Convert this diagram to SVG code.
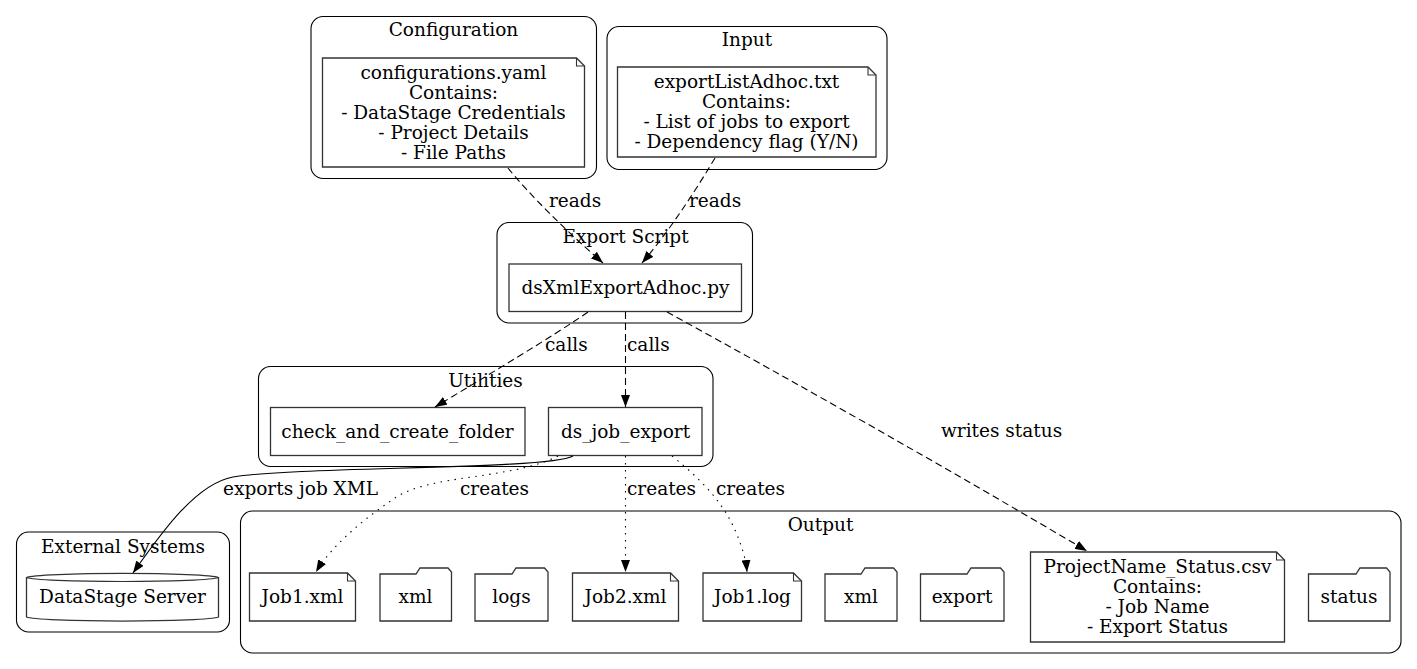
<svg xmlns="http://www.w3.org/2000/svg" width="1417" height="669" viewBox="0 0 1417 669">
<style>
  text { font-family: "DejaVu Serif", "Liberation Serif", serif; font-size: 18.5px; fill: #000; }
  .c { text-anchor: middle; }
  .cluster { fill: none; stroke: #000; stroke-width: 1.1; }
  .node { fill: #fff; stroke: #333; stroke-width: 1.3; }
  .fold { fill: none; stroke: #333; stroke-width: 1.1; }
  .edge { fill: none; stroke: #000; stroke-width: 1.1; }
  .dashed { stroke-dasharray: 7,4; }
  .dotted { stroke-dasharray: 1.5,5.5; }
</style>
<defs>
  <marker id="arr" viewBox="0 0 12 9" refX="12" refY="4.5" markerWidth="12" markerHeight="9" orient="auto" markerUnits="userSpaceOnUse">
    <path d="M0,0 L12,4.5 L0,9 Z" fill="#000"/>
  </marker>
</defs>
<rect width="1417" height="669" fill="#fff"/>

<!-- clusters -->
<g id="cluster-configuration">
  <rect class="cluster" x="311" y="16.5" width="285.5" height="162" rx="12"/>
  <text class="c" x="453.5" y="36">Configuration</text>
</g>
<g id="cluster-input">
  <rect class="cluster" x="607" y="26.5" width="280" height="143" rx="12"/>
  <text class="c" x="747" y="46">Input</text>
</g>
<g id="cluster-export-script">
  <rect class="cluster" x="497" y="222.5" width="255.5" height="100.5" rx="12"/>
  <text class="c" x="625.5" y="243">Export Script</text>
</g>
<g id="cluster-utilities">
  <rect class="cluster" x="258.5" y="366.5" width="454.5" height="100" rx="12"/>
  <text class="c" x="485.5" y="387">Utilities</text>
</g>
<g id="cluster-external">
  <rect class="cluster" x="16.5" y="532" width="213" height="100" rx="12"/>
  <text class="c" x="123" y="552.5">External Systems</text>
</g>
<g id="cluster-output">
  <rect class="cluster" x="240.5" y="511" width="1160.5" height="142" rx="12"/>
  <text class="c" x="820.5" y="531">Output</text>
</g>

<!-- nodes -->
<g id="node-config-yaml">
  <path class="node" d="M322.5,58 H576.5 L584.5,66 V167 H322.5 Z"/>
  <path class="fold" d="M576.5,58 V66 H584.5"/>
  <text class="c" x="453.5" y="79">configurations.yaml</text>
  <text class="c" x="453.5" y="99">Contains:</text>
  <text class="c" x="453.5" y="119"> - DataStage Credentials</text>
  <text class="c" x="453.5" y="139"> - Project Details</text>
  <text class="c" x="453.5" y="159"> - File Paths</text>
</g>
<g id="node-export-list">
  <path class="node" d="M617.5,67 H868 L876,75 V157 H617.5 Z"/>
  <path class="fold" d="M868,67 V75 H876"/>
  <text class="c" x="746.5" y="88">exportListAdhoc.txt</text>
  <text class="c" x="746.5" y="108">Contains:</text>
  <text class="c" x="746.5" y="128"> - List of jobs to export</text>
  <text class="c" x="746.5" y="148"> - Dependency flag (Y/N)</text>
</g>
<g id="node-dsxml">
  <rect class="node" x="509" y="264" width="232.5" height="47.5"/>
  <text class="c" x="625.5" y="294">dsXmlExportAdhoc.py</text>
</g>
<g id="node-check-folder">
  <rect class="node" x="270.5" y="407.5" width="254.5" height="48"/>
  <text class="c" x="397.5" y="437.5">check_and_create_folder</text>
</g>
<g id="node-ds-job-export">
  <rect class="node" x="548.5" y="407.5" width="153.5" height="48"/>
  <text class="c" x="625.5" y="437.5">ds_job_export</text>
</g>
<g id="node-datastage-server">
  <path class="node" d="M26.5,577.5 A96.5,4.5 0 0 1 218.5,577.5 V617 A96.5,4.5 0 0 1 26.5,617 Z"/>
  <path class="fold" d="M26.5,577.5 A96.5,4.5 0 0 0 218.5,577.5"/>
  <text class="c" x="122.5" y="603">DataStage Server</text>
</g>
<g id="node-job1-xml">
  <path class="node" d="M249.5,573 H347.5 L355.5,581 V621 H249.5 Z"/>
  <path class="fold" d="M347.5,573 V581 H355.5"/>
  <text class="c" x="302.5" y="603">Job1.xml</text>
</g>
<g id="node-xml-folder-1">
  <path class="node" d="M380,574 H416 L420,568 H448 L451.5,572 V621 H380 Z"/>
  <text class="c" x="415.5" y="603">xml</text>
</g>
<g id="node-logs-folder">
  <path class="node" d="M475,574 H512 L516,568 H544.5 L548,572 V621 H475 Z"/>
  <text class="c" x="511.5" y="603">logs</text>
</g>
<g id="node-job2-xml">
  <path class="node" d="M572.5,573 H670.5 L678.5,581 V621 H572.5 Z"/>
  <path class="fold" d="M670.5,573 V581 H678.5"/>
  <text class="c" x="625.5" y="603">Job2.xml</text>
</g>
<g id="node-job1-log">
  <path class="node" d="M703,573 H793.5 L801.5,581 V621 H703 Z"/>
  <path class="fold" d="M793.5,573 V581 H801.5"/>
  <text class="c" x="752.5" y="603">Job1.log</text>
</g>
<g id="node-xml-folder-2">
  <path class="node" d="M825,574 H861 L865,568 H893.5 L897,572 V621 H825 Z"/>
  <text class="c" x="861" y="603">xml</text>
</g>
<g id="node-export-folder">
  <path class="node" d="M920.5,574 H967 L971,568 H1000.5 L1004,572 V621 H920.5 Z"/>
  <text class="c" x="962" y="603">export</text>
</g>
<g id="node-status-csv">
  <path class="node" d="M1030.5,552 H1276.5 L1284.5,560 V642 H1030.5 Z"/>
  <path class="fold" d="M1276.5,552 V560 H1284.5"/>
  <text class="c" x="1157.5" y="573">ProjectName_Status.csv</text>
  <text class="c" x="1157.5" y="593">Contains:</text>
  <text class="c" x="1157.5" y="613"> - Job Name</text>
  <text class="c" x="1157.5" y="633"> - Export Status</text>
</g>
<g id="node-status-folder">
  <path class="node" d="M1308.5,574 H1356 L1360,568 H1386.5 L1390,572 V621 H1308.5 Z"/>
  <text class="c" x="1349" y="603">status</text>
</g>

<!-- connectors -->
<g id="connectors">
  <path class="edge dashed" d="M508,168 C528,193 565,230 603,263" marker-end="url(#arr)"/>
  <text x="549" y="207">reads</text>
  <path class="edge dashed" d="M715,158 C700,183 672,228 642,263" marker-end="url(#arr)"/>
  <text x="689" y="207">reads</text>
  <path class="edge dashed" d="M588,312 C555,335 480,380 435,407" marker-end="url(#arr)"/>
  <text x="545" y="351">calls</text>
  <path class="edge dashed" d="M625.5,312 V407" marker-end="url(#arr)"/>
  <text x="627" y="351">calls</text>
  <path class="edge dashed" d="M667,312 C800,385 950,470 1087,551" marker-end="url(#arr)"/>
  <text x="941" y="437">writes status</text>
  <path class="edge" d="M573,456 C548,470 300,466 233,477 C195,484 160,535 133,573" marker-end="url(#arr)"/>
  <text x="223" y="495">exports job XML</text>
  <path class="edge dotted" d="M558,456 C510,480 430,474 395,498 C365,518 332,545 316,572" marker-end="url(#arr)"/>
  <text x="460" y="495">creates</text>
  <path class="edge dotted" d="M625.5,456 V572" marker-end="url(#arr)"/>
  <text x="627" y="495">creates</text>
  <path class="edge dotted" d="M672,456 C697,476 722,500 735,530 C742,546 746,560 747,572" marker-end="url(#arr)"/>
  <text x="716" y="495">creates</text>
</g>
</svg>
